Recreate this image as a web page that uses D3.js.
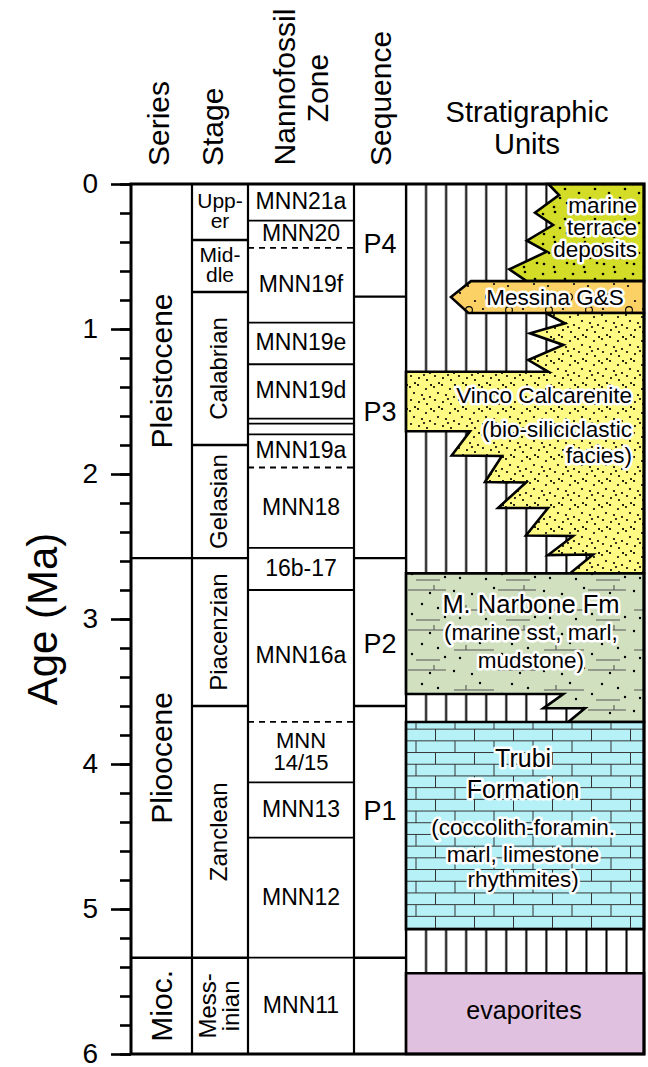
<!DOCTYPE html>
<html>
<head>
<meta charset="utf-8">
<script src="https://cdn.jsdelivr.net/npm/d3@7"></script>
<style>
  body { margin: 0; background: #fff; }
  text { font-family: "Liberation Sans", Arial, sans-serif; fill: #000; }
  .halo { paint-order: stroke; stroke: #fff; stroke-width: 5px; stroke-linejoin: round; }
</style>
</head>
<body>
<svg id="chart" width="648" height="1067"></svg>
<script>
// ---- data (ages in Ma) ----
const ageTicks = [0, 1, 2, 3, 4, 5, 6];
const minorTicks = d3.range(0, 6.001, 0.2);

const headers = ["Series", "Stage", "Nannofossil Zone", "Sequence", "Stratigraphic Units"];

const seriesRows = [
  { name: "Pleistocene", top: 0, base: 2.58 },
  { name: "Plioocene", top: 2.58, base: 5.336 },
  { name: "Mioc.", top: 5.336, base: 6 }
];

const stageRows = [
  { name: ["Upp-", "er"], top: 0, base: 0.386, vertical: false },
  { name: ["Mid-", "dle"], top: 0.386, base: 0.745, vertical: false },
  { name: ["Calabrian"], top: 0.745, base: 1.80, vertical: true },
  { name: ["Gelasian"], top: 1.80, base: 2.58, vertical: true },
  { name: ["Piacenzian"], top: 2.58, base: 3.60, vertical: true },
  { name: ["Zanclean"], top: 3.60, base: 5.336, vertical: true },
  { name: ["Mess-", "inian"], top: 5.336, base: 6, vertical: true }
];

const zoneRows = [
  { name: ["MNN21a"], top: 0, base: 0.253 },
  { name: ["MNN20"], top: 0.253, base: 0.44 },
  { name: ["MNN19f"], top: 0.44, base: 0.956, dashedTop: true },
  { name: ["MNN19e"], top: 0.956, base: 1.243 },
  { name: ["MNN19d"], top: 1.243, base: 1.618 },
  { name: [], top: 1.618, base: 1.653 },
  { name: [], top: 1.653, base: 1.727 },
  { name: ["MNN19a"], top: 1.727, base: 1.955 },
  { name: ["MNN18"], top: 1.955, base: 2.51, dashedTop: true },
  { name: ["16b-17"], top: 2.51, base: 2.80 },
  { name: ["MNN16a"], top: 2.80, base: 3.71 },
  { name: ["MNN", "14/15"], top: 3.71, base: 4.127, dashedTop: true },
  { name: ["MNN13"], top: 4.127, base: 4.508 },
  { name: ["MNN12"], top: 4.508, base: 5.336 },
  { name: ["MNN11"], top: 5.336, base: 6 }
];

const sequenceRows = [
  { name: "P4", top: 0, base: 0.777, labelAge: 0.41 },
  { name: "P3", top: 0.777, base: 2.58, labelAge: 1.57 },
  { name: "P2", top: 2.58, base: 3.60, labelAge: 3.17 },
  { name: "P1", top: 3.60, base: 5.336, labelAge: 4.32 },
  { name: "", top: 5.336, base: 6 }
];

// outlines of the units: [lateral position in column 0..1, age]
const marineTerrace = [[1, 0], [0.598, 0], [0.643, 0.076], [0.542, 0.198], [0.618, 0.283],
  [0.508, 0.391], [0.591, 0.467], [0.434, 0.588], [0.507, 0.67], [1, 0.67]];
const messinaGS = [[1, 0.67], [0.273, 0.67], [0.189, 0.78], [0.262, 0.89], [1, 0.89]];
const vincoCalcarenite = [[1, 0.89], [0.588, 0.89], [0.668, 0.961], [0.521, 1.03], [0.661, 1.11],
  [0.514, 1.214], [0.598, 1.295], [0, 1.295], [0, 1.705], [0.269, 1.705], [0.192, 1.872],
  [0.403, 1.876], [0.332, 2.055], [0.504, 2.059], [0.387, 2.234], [0.597, 2.234],
  [0.504, 2.424], [0.702, 2.428], [0.597, 2.559], [0.786, 2.555], [0.689, 2.685], [1, 2.685]];
const monteNarbone = [[0, 2.685], [1, 2.685], [1, 3.71], [0.682, 3.71], [0.752, 3.616],
  [0.577, 3.616], [0.661, 3.517], [0, 3.517]];
const trubi = [[0, 3.71], [1, 3.71], [1, 5.14], [0, 5.14]];
const evaporites = [[0, 5.443], [1, 5.443], [1, 6], [0, 6]];

const unitLines = {
  marine: ["marine", "terrace", "deposits"],
  messina: ["Messina G&S"],
  vinco: ["Vinco Calcarenite", "(bio-siliciclastic", "facies)"],
  narbone: ["M. Narbone Fm", "(marine sst, marl,", "mudstone)"],
  trubi: ["Trubi", "Formation", "(coccolith-foramin.", "marl, limestone", "rhythmites)"],
  evap: ["evaporites"]
};

// ---- layout ----
const svg = d3.select("#chart");
const colX = [131, 192, 248, 354, 406, 644];
const y = d3.scaleLinear().domain([0, 6]).range([184, 1054]);
const ux = d3.scaleLinear().domain([0, 1]).range([colX[4], colX[5]]);
const defs = svg.append("defs");

// vertical-line (hiatus) pattern
const vl = defs.append("pattern").attr("id", "vlines").attr("patternUnits", "userSpaceOnUse")
  .attr("x", colX[4] - 10).attr("y", 0).attr("width", 20.05).attr("height", 20);
vl.append("rect").attr("width", 20.05).attr("height", 20).attr("fill", "#fff");
vl.append("line").attr("x1", 10).attr("x2", 10).attr("y1", 0).attr("y2", 20)
  .attr("stroke", "#000").attr("stroke-width", 2);

function dotPattern(id, fill, w, h, dots, r) {
  const p = defs.append("pattern").attr("id", id).attr("patternUnits", "userSpaceOnUse")
    .attr("width", w).attr("height", h);
  p.append("rect").attr("width", w).attr("height", h).attr("fill", fill);
  p.selectAll("circle").data(dots).join("circle")
    .attr("cx", d => d[0]).attr("cy", d => d[1]).attr("r", r).attr("fill", "#000");
  return p;
}
dotPattern("terrace", "#d3dc26", 30, 30,
  [[3, 4], [15, 2], [25, 9], [9, 13], [20, 18], [4, 24], [14, 27], [27, 23]], 1.3);
dotPattern("vinco", "#fffa83", 24, 24,
  [[2, 3], [10, 1], [18, 5], [6, 9], [14, 11], [22, 13], [3, 16], [11, 18], [19, 20], [7, 23], [16, 15], [23, 1]], 1.05);
const nb = dotPattern("narbone", "#d1e0bf", 90, 40,
  [[10, 18], [30, 3], [52, 14], [70, 33], [85, 17], [22, 34], [44, 28], [62, 4], [36, 19], [78, 8], [4, 31]], 1.2);
nb.append("path").attr("d", "M4,10H44M16,5V10M48,30H86M74,25V30M56,20H80")
  .attr("stroke", "#555").attr("stroke-width", 1.1).attr("fill", "none");
const ms = dotPattern("messina", "#fbd166", 40, 32, [[20, 5], [3, 21], [35, 13], [14, 28], [28, 30]], 1.1);
ms.selectAll("circle.o").data([[9, 9], [29, 22]]).join("circle").attr("class", "o")
  .attr("cx", d => d[0]).attr("cy", d => d[1]).attr("r", 3.4)
  .attr("fill", "none").attr("stroke", "#000").attr("stroke-width", 1.1);
const br = defs.append("pattern").attr("id", "bricks").attr("patternUnits", "userSpaceOnUse")
  .attr("x", colX[4]).attr("y", y(3.71) - 5).attr("width", 39).attr("height", 23.4);
br.append("rect").attr("width", 39).attr("height", 23.4).attr("fill", "#b5f1f7");
br.append("path").attr("d", "M0,0.5H39M0,12.2H39M10,0V12.2M29.5,12.2V23.4")
  .attr("stroke", "#333").attr("stroke-width", 1).attr("fill", "none");

// ---- stratigraphic units column ----
svg.append("rect").attr("x", colX[4]).attr("y", y(0)).attr("width", colX[5] - colX[4])
  .attr("height", y(6) - y(0)).attr("fill", "url(#vlines)");

const outline = d3.line().x(d => ux(d[0])).y(d => y(d[1]));
const units = [
  { pts: marineTerrace, fill: "url(#terrace)" },
  { pts: messinaGS, fill: "url(#messina)" },
  { pts: vincoCalcarenite, fill: "url(#vinco)" },
  { pts: monteNarbone, fill: "url(#narbone)" },
  { pts: trubi, fill: "url(#bricks)" },
  { pts: evaporites, fill: "#e1c1e0" }
];
svg.append("g").selectAll("path").data(units).join("path")
  .attr("d", d => outline(d.pts) + "Z")
  .attr("fill", d => d.fill).attr("stroke", "#000").attr("stroke-width", 2.6)
  .attr("stroke-linejoin", "miter");

// unit labels: [lines, lateral pos, baseline ages, anchor, sizes]
const unitLabels = [
  { lines: unitLines.marine, f: 0.971, ages: [0.2, 0.352, 0.503], anchor: "end", size: [22.5] },
  { lines: unitLines.messina, f: 0.626, ages: [0.834], anchor: "middle", size: [22.5] },
  { lines: unitLines.vinco, f: 0.95, ages: [1.512, 1.743, 1.924], anchor: "end", size: [22.5] },
  { lines: unitLines.narbone, f: 0.525, ages: [2.961, 3.145, 3.34], anchor: "middle", size: [25.5, 22.5, 22.5] },
  { lines: unitLines.trubi, f: 0.492, ages: [4.019, 4.234, 4.49, 4.674, 4.846], anchor: "middle", size: [25, 25, 22.5, 22.5, 22.5] },
  { lines: unitLines.evap, f: 0.496, ages: [5.759], anchor: "middle", size: [25], plain: true }
];
unitLabels.forEach(u => {
  u.lines.forEach((t, i) => {
    svg.append("text").attr("class", u.plain ? null : "halo")
      .attr("x", ux(u.f)).attr("y", y(u.ages[i]))
      .attr("text-anchor", u.anchor)
      .attr("font-size", u.size[Math.min(i, u.size.length - 1)])
      .text(t);
  });
});

// ---- boundary lines in the left columns ----
const lines = svg.append("g").attr("stroke", "#000").attr("fill", "none");
function bounds(rows, x0, x1, w) {
  rows.slice(1).forEach(r => {
    lines.append("line").attr("x1", x0).attr("x2", x1).attr("y1", y(r.top)).attr("y2", y(r.top))
      .attr("stroke-width", w).attr("stroke-dasharray", r.dashedTop ? "6,5" : null);
  });
}
bounds(seriesRows, colX[0], colX[1], 2.4);
bounds(stageRows, colX[1], colX[2], 2.4);
bounds(zoneRows, colX[2], colX[3], 1.8);
bounds(sequenceRows, colX[3], colX[4], 2.4);
colX.slice(1, 5).forEach(x => {
  lines.append("line").attr("x1", x).attr("x2", x).attr("y1", y(0)).attr("y2", y(6)).attr("stroke-width", 2.2);
});
lines.append("rect").attr("x", colX[0]).attr("y", y(0)).attr("width", colX[5] - colX[0])
  .attr("height", y(6) - y(0)).attr("stroke-width", 3);

// ---- column texts ----
function vtext(x, yc, t, size) {
  svg.append("text").attr("transform", `translate(${x},${yc}) rotate(-90)`)
    .attr("text-anchor", "middle").attr("font-size", size).text(t);
}
seriesRows.forEach(r => vtext(171.5, (y(r.top) + y(r.base)) / 2, r.name, 30));

stageRows.forEach(r => {
  const yc = (y(r.top) + y(r.base)) / 2;
  if (r.vertical) {
    if (r.name.length === 1) vtext(227, yc, r.name[0], 24);
    else { vtext(216, yc, r.name[0], 24); vtext(238.5, yc, r.name[1], 24); }
  } else {
    r.name.forEach((t, i) => {
      svg.append("text").attr("x", (colX[1] + colX[2]) / 2).attr("y", yc + 6 + (i - 0.5) * 20)
        .attr("text-anchor", "middle").attr("font-size", 21).text(t);
    });
  }
});

zoneRows.forEach(r => {
  const yc = (y(r.top) + y(r.base)) / 2;
  const n = r.name.length;
  r.name.forEach((t, i) => {
    svg.append("text").attr("x", (colX[2] + colX[3]) / 2)
      .attr("y", yc + 7 + (i - (n - 1) / 2) * 22.5)
      .attr("text-anchor", "middle").attr("font-size", n > 1 ? 22 : 23).text(t);
  });
});

sequenceRows.filter(r => r.name).forEach(r => {
  svg.append("text").attr("x", (colX[3] + colX[4]) / 2).attr("y", y(r.labelAge) + 9.5)
    .attr("text-anchor", "middle").attr("font-size", 27).text(r.name);
});

// ---- headers ----
function vhead(x, yy, t, anchor) {
  svg.append("text").attr("transform", `translate(${x},${yy}) rotate(-90)`)
    .attr("text-anchor", anchor).attr("font-size", 30).text(t);
}
vhead(169, 166, headers[0], "start");
vhead(223, 166, headers[1], "start");
const nz = headers[2].split(" ");
vhead(295, 87, nz[0], "middle");
vhead(328, 88, nz[1], "middle");
vhead(391, 166, headers[3], "start");
headers[4].split(" ").forEach((t, i) => {
  svg.append("text").attr("x", 527).attr("y", 122 + i * 32).attr("text-anchor", "middle")
    .attr("font-size", 29).text(t);
});

// ---- age axis ----
const minorAxis = svg.append("g").attr("transform", `translate(${colX[0]},0)`)
  .call(d3.axisLeft(y).tickValues(minorTicks).tickSize(11).tickFormat(""));
const majorAxis = svg.append("g").attr("transform", `translate(${colX[0]},0)`)
  .call(d3.axisLeft(y).tickValues(ageTicks).tickSize(20).tickPadding(13).tickFormat(d3.format("d")));
[minorAxis, majorAxis].forEach(g => {
  g.select(".domain").remove();
  g.selectAll(".tick line").attr("stroke", "#000").attr("stroke-width", 2.6);
  g.selectAll(".tick text").attr("font-size", 28).attr("font-family", "Liberation Sans, Arial, sans-serif").attr("fill", "#000");
});

svg.append("text").attr("transform", `translate(57,${(y(0) + y(6)) / 2}) rotate(-90)`)
  .attr("text-anchor", "middle").attr("font-size", 42).text("Age (Ma)");
</script>
</body>
</html>
